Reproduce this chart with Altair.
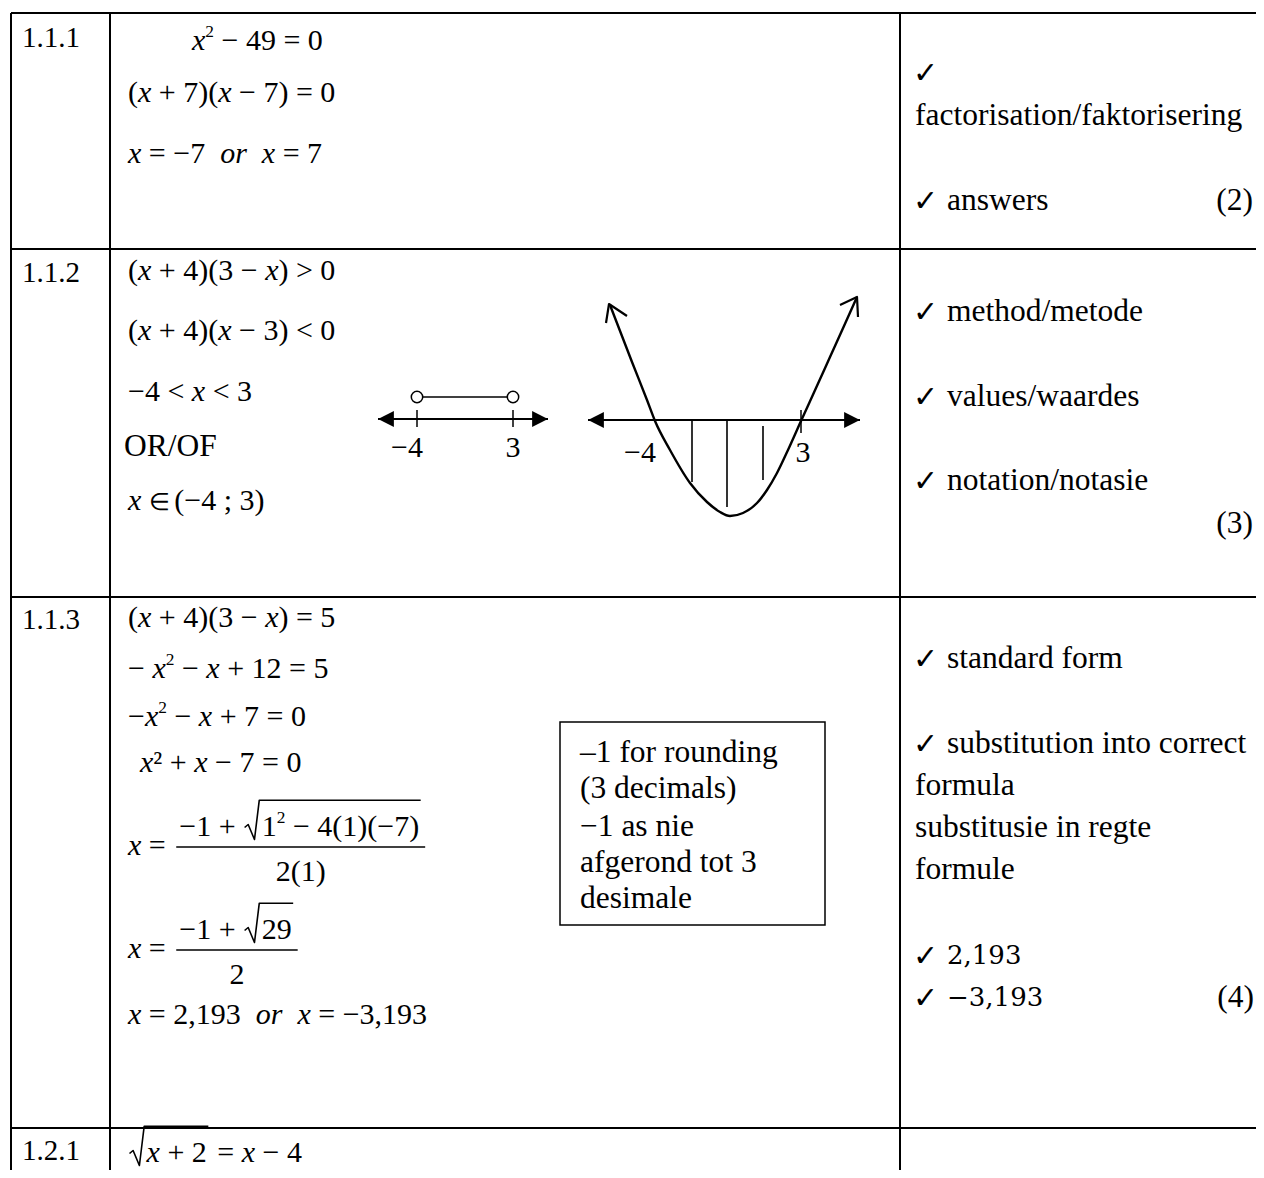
import altair as alt
import pandas as pd

# ---------------- content ----------------
row_labels = ["1.1.1", "1.1.2", "1.1.3", "1.2.1"]
row_tops = [13, 249, 597, 1128]
row_label_y = [37, 272, 619, 1150]
col_lines = [11, 110, 900]
page_right = 1256
page_bottom = 1170

# math lines (x italic, ^ = superscript, _..._ = italic word, √{..} = square root)
math_lines = [
    "x^2 − 49 = 0",
    "(x + 7)(x − 7) = 0",
    "x = −7  _or_  x = 7",
    "(x + 4)(3 − x) > 0",
    "(x + 4)(x − 3) < 0",
    "−4 < x < 3",
    "x ∈ (−4 ; 3)",
    "(x + 4)(3 − x) = 5",
    "− x^2 − x + 12 = 5",
    "−x^2 − x + 7 = 0",
    "x² + x − 7 = 0",
    "x = 2,193  _or_  x = −3,193",
    "√{x + 2} = x − 4",
]
math_x = [192, 128, 128, 128, 128, 128, 128, 128, 128, 128, 140, 128, 128]
math_y = [40, 92, 153, 270, 330, 391, 500, 617, 668, 716, 762, 1014, 1152]

frac_prefix = "x = "
frac_num = ["−1 + √{1^2 − 4(1)(−7)}", "−1 + √{29}"]
frac_den = ["2(1)", "2"]
frac_bar_y = [847, 950]
frac_left = 128

plain_text = ["OR/OF"]
plain_x = [124]
plain_y = [446]

right_lines = ["", "factorisation/faktorisering", "answers", "method/metode",
               "values/waardes", "notation/notasie", "standard form",
               "substitution into correct", "formula", "substitusie in regte",
               "formule", "2,193", "−3,193"]
right_check = [True, False, True, True, True, True, True, True, False, False, False, True, True]
right_alt_font = [False] * 11 + [True, True]
right_y = [72, 115, 200, 311, 396, 480, 658, 743, 785, 827, 869, 955, 997]

marks = ["(2)", "(3)", "(4)"]
marks_right = [1253, 1253, 1254]
marks_y = [200, 523, 997]

box_lines = ["–1 for rounding", "(3 decimals)", "−1 as nie", "afgerond tot 3", "desimale"]
box_y = [752, 788, 826, 862, 898]
box_left_text = 580
box_edges = (560, 825, 722, 925)

# number line sketch
nl_axis = (378, 548, 419)
nl_points = [417, 513]
nl_point_y = 397
nl_tick = (410, 427)
nl_labels = ["−4", "3"]
nl_label_x = [407, 513]
nl_label_y = 447

# parabola sketch
pb_axis = (588, 860, 420)
pb_curve_x = [610, 632, 647, 655, 670, 690, 707, 720, 730, 743, 757, 767, 777, 788, 801, 816, 830, 844, 857]
pb_curve_y = [305, 362, 400, 421, 450, 483, 502, 512, 516, 513, 503, 490, 473, 450, 421, 388, 357, 326, 297]
pb_hatch_x = [692, 727, 763]
pb_hatch_top = [421, 421, 426]
pb_hatch_bot = [482, 507, 480]
pb_tick = (801, 410, 433)
pb_labels = ["−4", "3"]
pb_label_x = [640, 803]
pb_label_y = 452
pb_head_left_x = [606, 609, 627]
pb_head_left_y = [323, 304, 316]
pb_head_right_x = [840, 857, 858]
pb_head_right_y = [305, 297, 317]

# ---------------- styling ----------------
SERIF = "Liberation Serif"
MS = 30      # math size
TS = 31.5    # text size
LS = 29      # label size
BASE = 0.33  # centre -> baseline

REG_W = {' ': 0.25, '(': 0.333, ')': 0.333, '+': 0.564, '−': 0.564, '=': 0.564,
         '<': 0.564, '>': 0.564, ',': 0.25, '.': 0.25, ';': 0.278, '∈': 0.6,
         '²': 0.3, '–': 0.5}
ITA_W = {'x': 0.444, 'o': 0.5, 'r': 0.389}
SMALL_CHARS = {'∈': 0.8}


def cw(c, style):
    if style == 'i':
        return ITA_W.get(c, 0.444)
    return REG_W.get(c, 0.5)


def parse(s):
    toks = []
    i = 0
    ital = False
    while i < len(s):
        c = s[i]
        if c == '_':
            ital = not ital
            i += 1
            continue
        if c == '^':
            toks.append(('s', s[i + 1]))
            i += 2
            continue
        if c == '√' and i + 1 < len(s) and s[i + 1] == '{':
            j = s.index('}', i)
            toks.append(('sqrt', s[i + 2:j]))
            i = j + 1
            continue
        toks.append(('i' if (c == 'x' or ital) else 'r', c))
        i += 1
    return toks


def layout(s, x0, yc, size, out, paths):
    x = x0
    base = yc + BASE * size
    for kind, val in parse(s):
        if kind == 'sqrt':
            xs = x + 0.62 * size
            w = layout(val, xs, yc, size, out, paths)
            top = yc - 0.86 * size
            pts = [(x + 0.05 * size, yc + 0.05 * size), (x + 0.17 * size, yc - 0.05 * size),
                   (x + 0.38 * size, yc + 0.45 * size), (xs - 0.08 * size, top),
                   (xs + w + 0.05 * size, top)]
            paths.append(pts)
            x = xs + w + 0.1 * size
        elif kind == 's':
            fs = 0.58 * size
            out.append(dict(t=val, x=x, y=base - 0.42 * size, s=fs, st='r'))
            x += cw(val, 'r') * fs
        else:
            if val != ' ':
                out.append(dict(t=val, x=x, y=base, s=size * SMALL_CHARS.get(val, 1.0), st=kind))
            x += cw(val, kind) * size
    return x - x0


def measure(s, size):
    return layout(s, 0, 0, size, [], [])


math_tokens = []
path_list = []   # list of (points, width)
rules = []       # x, y, x2, y2, w

# table grid
for yt in row_tops:
    rules.append(dict(x=col_lines[0], y=yt, x2=page_right, y2=yt, w=2))
for xc in col_lines:
    rules.append(dict(x=xc, y=row_tops[0], x2=xc, y2=page_bottom, w=2))

# math lines
for s, x0, yc in zip(math_lines, math_x, math_y):
    pl = []
    layout(s, x0, yc, MS, math_tokens, pl)
    path_list += [(p, 1.6) for p in pl]

# fractions
for num, den, by in zip(frac_num, frac_den, frac_bar_y):
    pl = []
    wp = layout(frac_prefix, frac_left, by - 2, MS, math_tokens, pl)
    bx0 = frac_left + wp + 3
    wn = measure(num, MS)
    wd = measure(den, MS)
    bw = max(wn, wd) + 6
    layout(num, bx0 + (bw - wn) / 2, by - 21, MS, math_tokens, pl)
    layout(den, bx0 + (bw - wd) / 2, by + 24, MS, math_tokens, pl)
    rules.append(dict(x=bx0, y=by, x2=bx0 + bw, y2=by, w=1.5))
    path_list += [(p, 1.6) for p in pl]

# sketches: rules
rules.append(dict(x=nl_axis[0], y=nl_axis[2], x2=nl_axis[1], y2=nl_axis[2], w=2.2))
for px in nl_points:
    rules.append(dict(x=px, y=nl_tick[0], x2=px, y2=nl_tick[1], w=1.5))
rules.append(dict(x=nl_points[0], y=nl_point_y, x2=nl_points[1], y2=nl_point_y, w=1.5))
rules.append(dict(x=pb_axis[0], y=pb_axis[2], x2=pb_axis[1], y2=pb_axis[2], w=2.2))
for hx, ht, hb in zip(pb_hatch_x, pb_hatch_top, pb_hatch_bot):
    rules.append(dict(x=hx, y=ht, x2=hx, y2=hb, w=1.6))
rules.append(dict(x=pb_tick[0], y=pb_tick[1], x2=pb_tick[0], y2=pb_tick[2], w=1.5))

# sketches: paths
path_list.append((list(zip(pb_head_left_x, pb_head_left_y)), 2.2))
path_list.append((list(zip(pb_head_right_x, pb_head_right_y)), 2.2))

path_rows = []
for pid, (pts, w) in enumerate(path_list):
    for k, (px, py) in enumerate(pts):
        path_rows.append(dict(x=px, y=py, p=pid, o=k, w=w))

curve_df = pd.DataFrame(dict(x=pb_curve_x, y=pb_curve_y))

# plain texts
reg_text = []
for t, yc in zip(row_labels, row_label_y):
    reg_text.append(dict(t=t, x=22, y=yc + BASE * LS, s=LS))
for t, x0, yc in zip(plain_text, plain_x, plain_y):
    reg_text.append(dict(t=t, x=x0, y=yc + BASE * TS, s=TS))
for t, yc in zip(box_lines, box_y):
    reg_text.append(dict(t=t, x=box_left_text, y=yc + BASE * TS, s=TS))

check_rows = []
alt_rows = []
for t, chk, af, yc in zip(right_lines, right_check, right_alt_font, right_y):
    if chk:
        check_rows.append(dict(t="✓", x=913, y=yc + 11, s=30))
    if t:
        xx = 947 if chk else 915
        if af:
            alt_rows.append(dict(t=t, x=xx, y=yc + 0.36 * 26, s=26))
        else:
            reg_text.append(dict(t=t, x=xx, y=yc + BASE * TS, s=TS))

right_rows = [dict(t=t, x=xr, y=yc + BASE * TS, s=TS) for t, xr, yc in zip(marks, marks_right, marks_y)]

center_rows = [dict(t=t, x=lx, y=nl_label_y + BASE * MS, s=MS) for t, lx in zip(nl_labels, nl_label_x)]
center_rows += [dict(t=t, x=lx, y=pb_label_y + BASE * MS, s=MS) for t, lx in zip(pb_labels, pb_label_x)]

tri_left = [dict(x=nl_axis[0] + 8, y=nl_axis[2]), dict(x=pb_axis[0] + 8, y=pb_axis[2])]
tri_right = [dict(x=nl_axis[1] - 8, y=nl_axis[2]), dict(x=pb_axis[1] - 8, y=pb_axis[2])]
circles = [dict(x=px, y=nl_point_y) for px in nl_points]
box_df = pd.DataFrame([dict(x=box_edges[0], x2=box_edges[1], y=box_edges[2], y2=box_edges[3])])

# ---------------- chart ----------------
XS = alt.Scale(domain=[8, 1256], nice=False, zero=False)
YS = alt.Scale(domain=[8, 1170], nice=False, zero=False, reverse=True)
X = alt.X("x:Q", scale=XS, axis=None)
Y = alt.Y("y:Q", scale=YS, axis=None)

rule_layer = alt.Chart(pd.DataFrame(rules)).mark_rule(color="black").encode(
    x=X, y=Y, x2="x2:Q", y2="y2:Q", strokeWidth=alt.StrokeWidth("w:Q", scale=None))

path_layer = alt.Chart(pd.DataFrame(path_rows)).mark_line(color="black", strokeJoin="round").encode(
    x=X, y=Y, detail="p:N", order="o:Q", strokeWidth=alt.StrokeWidth("w:Q", scale=None))

curve_layer = alt.Chart(curve_df).mark_line(
    color="black", strokeWidth=2.4, interpolate="monotone").encode(x=X, y=Y, order="x:Q")

box_layer = alt.Chart(box_df).mark_rect(fillOpacity=0, stroke="black", strokeWidth=1.5).encode(
    x=X, x2="x2:Q", y=Y, y2="y2:Q")

tl = alt.Chart(pd.DataFrame(tri_left)).mark_point(
    shape="M-1,0L1,-1L1,1Z", filled=True, color="black", size=250, opacity=1).encode(x=X, y=Y)
tr = alt.Chart(pd.DataFrame(tri_right)).mark_point(
    shape="M1,0L-1,-1L-1,1Z", filled=True, color="black", size=250, opacity=1).encode(x=X, y=Y)
circ = alt.Chart(pd.DataFrame(circles)).mark_point(
    shape="circle", filled=True, fill="white", stroke="black", strokeWidth=1.5, size=130, opacity=1
).encode(x=X, y=Y)

mt = pd.DataFrame(math_tokens)


def text_layer(df, **kw):
    return alt.Chart(df).mark_text(baseline="alphabetic", color="black", **kw).encode(
        x=X, y=Y, text="t:N", size=alt.Size("s:Q", scale=None))


math_reg = text_layer(mt[mt.st == "r"], font=SERIF, align="left")
math_ita = text_layer(mt[mt.st == "i"], font=SERIF, align="left", fontStyle="italic")
reg_layer = text_layer(pd.DataFrame(reg_text), font=SERIF, align="left")
right_layer = text_layer(pd.DataFrame(right_rows), font=SERIF, align="right")
center_layer = text_layer(pd.DataFrame(center_rows), font=SERIF, align="center")
check_layer = text_layer(pd.DataFrame(check_rows), font="DejaVu Sans", align="left", fontWeight="bold")
alt_layer = text_layer(pd.DataFrame(alt_rows), font="DejaVu Serif", align="left")

chart = alt.layer(
    box_layer, rule_layer, path_layer, curve_layer, tl, tr, circ,
    math_reg, math_ita, reg_layer, right_layer, center_layer, check_layer, alt_layer
).properties(
    width=1248, height=1162, padding=0, autosize=alt.AutoSizeParams(type="none"),
    background="white"
).configure_view(strokeWidth=0)

chart.save("out.html", embed_options={"renderer": "svg", "actions": False})
